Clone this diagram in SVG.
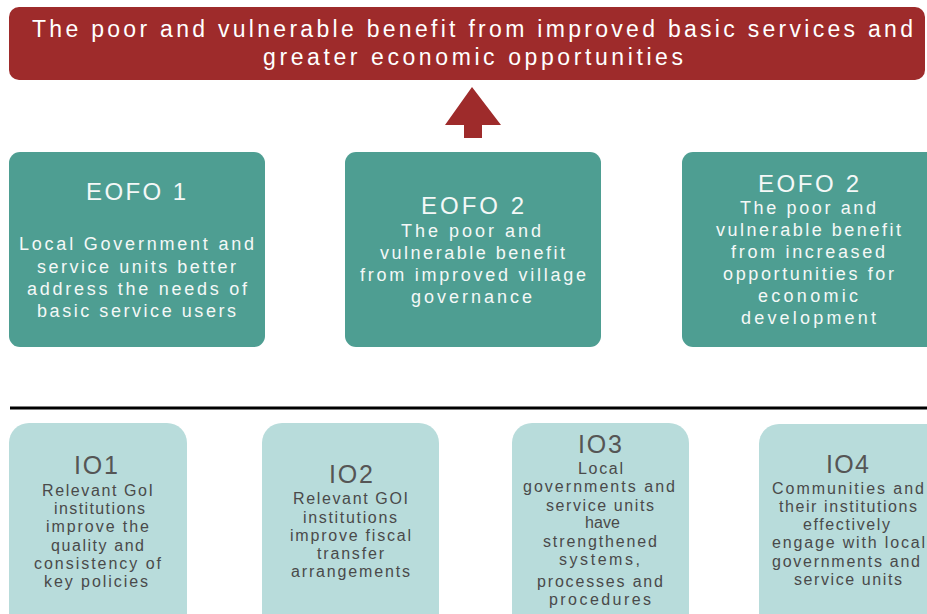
<svg xmlns="http://www.w3.org/2000/svg" width="927" height="614" viewBox="0 0 927 614">
<style>
.goal{fill:#9E2B2B}
.eofo{fill:#4E9E92}
.io{fill:#B8DCDB}
text{font-family:"Liberation Sans",Arial,sans-serif}
.gt{fill:#FFFFFF;font-size:23px}
.et{fill:#F4F8F7;font-size:24px}
.eb{fill:#F4F8F7;font-size:18px}
.it{fill:#555555;font-size:25px}
.ib{fill:#4A4A4A;font-size:16px}
.arrow{fill:#9E2B2B}
.divider{stroke:#000000;stroke-width:3}
</style>
<rect width="927" height="614" fill="#FFFFFF"/>

<g id="goal">
<rect class="goal" x="9" y="7" width="916" height="73" rx="10"/>
<text class="gt" x="32" y="37" textLength="881" lengthAdjust="spacing">The poor and vulnerable benefit from improved basic services and</text>
<text class="gt" x="263" y="65" textLength="420" lengthAdjust="spacing">greater economic opportunities</text>
</g>

<g id="connectors">
<polygon class="arrow" points="472,87 501,125 482,125 482,138 464,138 464,125 445,125"/>
</g>

<g id="eofo1">
<rect class="eofo" x="9" y="152" width="256" height="195" rx="11"/>
<text class="et" x="86" y="200" textLength="100" lengthAdjust="spacing">EOFO 1</text>
<text class="eb" x="19" y="250" textLength="235" lengthAdjust="spacing">Local Government and</text>
<text class="eb" x="37" y="273" textLength="199" lengthAdjust="spacing">service units better</text>
<text class="eb" x="27" y="295" textLength="220" lengthAdjust="spacing">address the needs of</text>
<text class="eb" x="37" y="317" textLength="199" lengthAdjust="spacing">basic service users</text>
</g>

<g id="eofo2a">
<rect class="eofo" x="345" y="152" width="256" height="195" rx="11"/>
<text class="et" x="421" y="214" textLength="103" lengthAdjust="spacing">EOFO 2</text>
<text class="eb" x="401" y="237" textLength="140" lengthAdjust="spacing">The poor and</text>
<text class="eb" x="380" y="259" textLength="185" lengthAdjust="spacing">vulnerable benefit</text>
<text class="eb" x="360" y="281" textLength="226" lengthAdjust="spacing">from improved village</text>
<text class="eb" x="411" y="303" textLength="121" lengthAdjust="spacing">governance</text>
</g>

<g id="eofo2b">
<rect class="eofo" x="682" y="152" width="256" height="195" rx="11"/>
<text class="et" x="758" y="192" textLength="101" lengthAdjust="spacing">EOFO 2</text>
<text class="eb" x="740" y="214" textLength="136" lengthAdjust="spacing">The poor and</text>
<text class="eb" x="716" y="236" textLength="185" lengthAdjust="spacing">vulnerable benefit</text>
<text class="eb" x="731" y="258" textLength="154" lengthAdjust="spacing">from increased</text>
<text class="eb" x="723" y="280" textLength="171" lengthAdjust="spacing">opportunities for</text>
<text class="eb" x="758" y="302" textLength="100" lengthAdjust="spacing">economic</text>
<text class="eb" x="741" y="324" textLength="135" lengthAdjust="spacing">development</text>
</g>

<line class="divider" x1="10" y1="408" x2="927" y2="408"/>

<g id="io1">
<rect class="io" x="9" y="423" width="178" height="210" rx="20"/>
<text class="it" x="74" y="474" textLength="44" lengthAdjust="spacing">IO1</text>
<text class="ib" x="42" y="496" textLength="111" lengthAdjust="spacing">Relevant GoI</text>
<text class="ib" x="54" y="514" textLength="91" lengthAdjust="spacing">institutions</text>
<text class="ib" x="46" y="532" textLength="103" lengthAdjust="spacing">improve the</text>
<text class="ib" x="51" y="551" textLength="93" lengthAdjust="spacing">quality and</text>
<text class="ib" x="34" y="569" textLength="127" lengthAdjust="spacing">consistency of</text>
<text class="ib" x="44" y="587" textLength="104" lengthAdjust="spacing">key policies</text>
</g>

<g id="io2">
<rect class="io" x="262" y="423" width="177" height="210" rx="20"/>
<text class="it" x="329" y="483" textLength="44" lengthAdjust="spacing">IO2</text>
<text class="ib" x="293" y="504" textLength="115" lengthAdjust="spacing">Relevant GOI</text>
<text class="ib" x="303" y="523" textLength="94" lengthAdjust="spacing">institutions</text>
<text class="ib" x="290" y="541" textLength="121" lengthAdjust="spacing">improve fiscal</text>
<text class="ib" x="317" y="559" textLength="67" lengthAdjust="spacing">transfer</text>
<text class="ib" x="291" y="577" textLength="119" lengthAdjust="spacing">arrangements</text>
</g>

<g id="io3">
<rect class="io" x="512" y="423" width="177" height="210" rx="20"/>
<text class="it" x="578" y="453" textLength="44" lengthAdjust="spacing">IO3</text>
<text class="ib" x="578" y="474" textLength="45" lengthAdjust="spacing">Local</text>
<text class="ib" x="523" y="492" textLength="152" lengthAdjust="spacing">governments and</text>
<text class="ib" x="546" y="511" textLength="108" lengthAdjust="spacing">service units</text>
<text class="ib" x="585" y="528" textLength="35" lengthAdjust="spacing">have</text>
<text class="ib" x="543" y="547" textLength="114" lengthAdjust="spacing">strengthened</text>
<text class="ib" x="559" y="565" textLength="81" lengthAdjust="spacing">systems,</text>
<text class="ib" x="537" y="587" textLength="126" lengthAdjust="spacing">processes and</text>
<text class="ib" x="549" y="605" textLength="102" lengthAdjust="spacing">procedures</text>
</g>

<g id="io4">
<rect class="io" x="759" y="424" width="190" height="210" rx="20"/>
<text class="it" x="826" y="473" textLength="43" lengthAdjust="spacing">IO4</text>
<text class="ib" x="772" y="494" textLength="152" lengthAdjust="spacing">Communities and</text>
<text class="ib" x="779" y="512" textLength="138" lengthAdjust="spacing">their institutions</text>
<text class="ib" x="803" y="530" textLength="87" lengthAdjust="spacing">effectively</text>
<text class="ib" x="772" y="548" textLength="153" lengthAdjust="spacing">engage with local</text>
<text class="ib" x="772" y="567" textLength="148" lengthAdjust="spacing">governments and</text>
<text class="ib" x="794" y="585" textLength="108" lengthAdjust="spacing">service units</text>
</g>
</svg>
